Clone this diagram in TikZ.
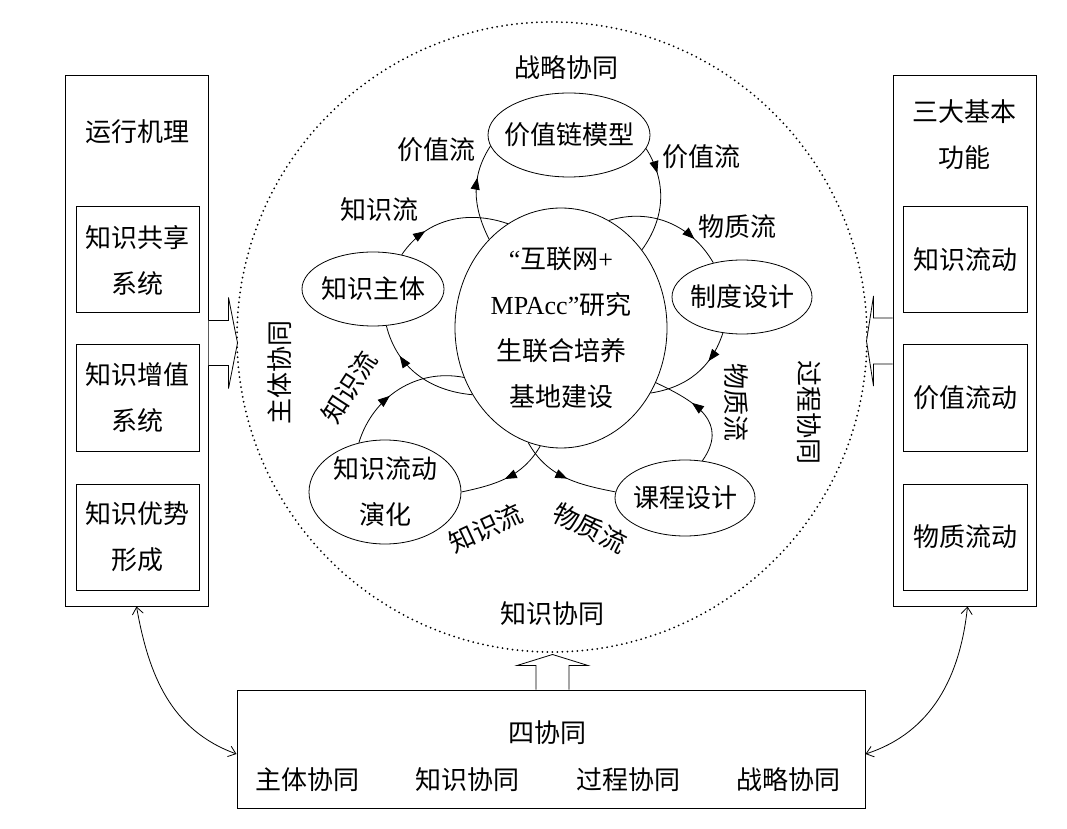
\documentclass[tikz,border=0pt]{standalone}
\usepackage{fontspec}
\setmainfont{Noto Sans CJK SC}
\newfontfamily\latin{Liberation Serif}
\usetikzlibrary{shapes.geometric,arrows.meta,decorations.markings}

\begin{document}
\begin{tikzpicture}[x=1pt,y=1pt,line width=0.8pt,
    font=\fontsize{26}{46}\selectfont,
    box/.style={draw,rectangle,line width=1pt,inner sep=0pt,align=center},
    oval/.style={draw,ellipse,inner xsep=-8pt,inner ysep=0pt,align=center},
    tag/.style={inner sep=0pt},
    flow/.style={postaction={decorate},decoration={markings,
        mark=at position #1 with {\arrow{Triangle[length=12pt,width=9pt]}}}},
    barbs/.style={{Straight Barb[length=7pt,width=11pt]}-{Straight Barb[length=7pt,width=11pt]}}]
    \useasboundingbox (0,0) rectangle (1067,828);
    % 协同圈
    \draw[line width=2pt,line cap=round,dash pattern=on 0pt off 5pt] (552,491) circle (315);
    \node[tag] (zlxt) at (566,760) {战略协同};
    \node[tag] (zsxt) at (552,214) {知识协同};
    \node[tag,rotate=90] (ztxt) at (280,455) {主体协同};
    \node[tag,rotate=-90] (gcxt) at (809,415) {过程协同};
    % 中心与五个要素
    \node[oval,minimum width=212,minimum height=240] (hub) at (561,500)
      {{\latin “}互联网{\latin +}\\{\latin MPAcc”}研究\\生联合培养\\基地建设};
    \node[oval,minimum width=162,minimum height=84] (vcm) at (569,693) {价值链模型};
    \node[oval,minimum width=142,minimum height=74] (kzt) at (373,539) {知识主体};
    \node[oval,minimum width=140,minimum height=74] (zdsj) at (742,531) {制度设计};
    \node[oval,minimum width=140,minimum height=76] (kcsj) at (685,330) {课程设计};
    \node[oval,minimum width=152,minimum height=104] (ldyh) at (385,336) {知识流动\\演化};
    % 五个循环
    \draw[flow=0.65] (hub.129) to[out=117,in=237] (vcm.188);
    \draw[flow=0.25] (vcm.350) to[out=-58,in=54] (hub.44);
    \draw[flow=0.28] (kzt.50) to[out=56,in=161] (hub.117);
    \draw[flow=0.72] (hub.217) to[out=175,in=-76] (kzt.-70);
    \draw[flow=0.75] (hub.66) to[out=17,in=120] (zdsj.130);
    \draw[flow=0.32] (zdsj.242) to[out=-108,in=9] (hub.-36);
    \draw[flow=0.42] (ldyh.118) to[out=73,in=169] (hub.207);
    \draw[flow=0.52] (hub.260) to[out=240,in=12] (ldyh.0);
    \draw[flow=0.62] (kcsj.65) to[out=55,in=-25,looseness=1.3] (hub.-30);
    \draw[flow=0.52] (hub.254) to[out=-61,in=169] (kcsj.175);
    \node[tag] (jzl1) at (436,678) {价值流};
    \node[tag] (jzl2) at (701,671) {价值流};
    \node[tag] (zsl1) at (379,618) {知识流};
    \node[tag] (wzl1) at (737,601) {物质流};
    \node[tag,rotate=-90] (wzl2) at (736,425) {物质流};
    \node[tag,rotate=57] (zsl2) at (349,441) {知识流};
    \node[tag,rotate=25] (zsl3) at (486,300) {知识流};
    \node[tag,rotate=-27] (wzl3) at (590,300) {物质流};
    % 左：运行机理
    \node[box,minimum width=143,minimum height=530] (lbox) at (136.5,487) {};
    \node (lttl) at (137,696) {运行机理};
    \foreach \txt/\yy [count=\i] in {{知识共享\\系统}/568,{知识增值\\系统}/430,{知识优势\\形成}/291}
      \node[box,minimum width=123,minimum height=106] (lsys\i) at (137.5,\yy) {\txt};
    % 右：三大基本功能
    \node[box,minimum width=143,minimum height=530] (rbox) at (964.5,487) {};
    \node[align=center] (rttl) at (964.5,693.5) {三大基本\\功能};
    \foreach \txt/\yy [count=\i] in {知识流动/568,价值流动/430,物质流动/291}
      \node[box,minimum width=124,minimum height=106] (rfun\i) at (965,\yy) {\txt};
    % 下：四协同
    \node[box,minimum width=628,minimum height=118] (bbox) at (551,79) {};
    \node (sxt) at (547,95) {四协同};
    \foreach \txt/\xx [count=\i] in {主体协同/307,知识协同/467,过程协同/628,战略协同/788}
      \node (xt\i) at (\xx,48) {\txt};
    % 空心箭头
    \draw[fill=white] ([yshift=20.5]lbox.east) -- ++(20,0) -- ++(0,23) -- ++(9,-45.5)
      -- ++(-9,-45.5) -- ++(0,23) -- ++(-20,0);
    \draw[fill=white] ([yshift=23]rbox.west) -- ++(-19,0) -- ++(0,22) -- ++(-7,-45)
      -- ++(7,-45) -- ++(0,22) -- ++(19,0);
    \draw[fill=white] ([xshift=-15]bbox.north) -- ++(0,24) -- ++(-19,0) -- ++(35.5,11)
      -- ++(35.5,-11) -- ++(-19,0) -- ++(0,-24);
    % 双向弧线
    \draw[barbs] (lbox.south) to[out=-80,in=160] ([yshift=-5]bbox.west);
    \draw[barbs] ([xshift=3]rbox.south) to[out=-96,in=18] ([yshift=-5]bbox.east);
\end{tikzpicture}
\end{document}
